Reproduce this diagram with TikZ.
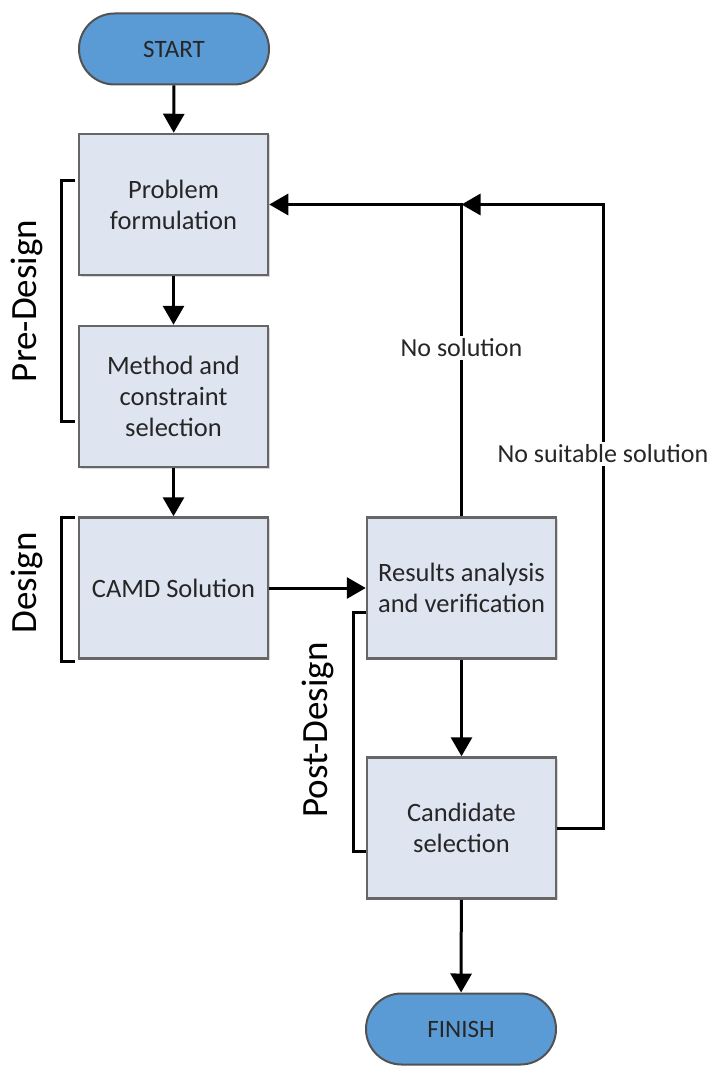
\documentclass[tikz,border=0pt]{standalone}
\usepackage{fontspec}
\setmainfont{Carlito}
\usepackage{tikz}
\usetikzlibrary{arrows.meta,shapes.misc,shadows}

\definecolor{boxfill}{HTML}{DEE5F1}
\definecolor{termfill}{HTML}{5B9BD5}
\definecolor{boxline}{HTML}{666666}

\begin{document}
\begin{tikzpicture}[x=1pt,y=-1pt,
  stepbox/.style={draw=boxline,line width=2.5pt,fill=boxfill,minimum width=189pt,minimum height=141pt,
    inner sep=0pt,align=center,text=black!85,font=\fontsize{26.5}{31}\selectfont,
    drop shadow={shadow xshift=1.5pt,shadow yshift=-1.5pt,opacity=0.3}},
  term/.style={rounded rectangle,draw=boxline!80!black,line width=2pt,fill=termfill,minimum width=190pt,
    minimum height=71pt,inner sep=0pt,text=black!85,font=\fontsize{25}{28}\selectfont},
  flow/.style={line width=3pt,-{Triangle[length=19pt,width=21pt]}},
  brk/.style={line width=3pt},
  lbl/.style={fill=white,inner sep=3pt,text=black!85,font=\fontsize{26}{30}\selectfont},
  side/.style={rotate=90,text=black,font=\fontsize{37}{42}\selectfont}]
  \useasboundingbox (0,0) rectangle (717,1067);

  \node[term] (start) at (174,49) {START};
  \node[stepbox] (prob) at (173.5,204.5) {Problem\\formulation};
  \node[stepbox] (meth) at (173.5,396.5) {Method and\\constraint\\selection};
  \node[stepbox] (camd) at (173.5,588) {CAMD Solution};
  \node[stepbox] (res) at (461.5,588) {Results analysis\\and verification};
  \node[stepbox] (cand) at (461.5,828) {Candidate\\selection};
  \node[term] (finish) at (461,1029) {FINISH};

  \coordinate (fork) at (res.north |- prob.east);
  \coordinate (rt) at (603,204.5);

  \draw[flow] (start) -- (prob);
  \draw[flow] (prob) -- (meth);
  \draw[flow] (meth) -- (camd);
  \draw[flow] (camd) -- (res);
  \draw[flow] (res) -- (cand);
  \draw[flow] (cand) -- (finish);
  % feedback loops
  \draw[flow] (res.north) -- node[lbl,pos=0.54] {No solution} (fork) -- (prob.east);
  \draw[flow] (cand.east) -- (cand.east -| rt) -- node[lbl,pos=0.6] {No suitable solution} (rt) -- (fork);

  % phase brackets
  \draw[brk] (75,181) -- (61,181) -- (61,421) -- (75,421);
  \draw[brk] (75,517) -- (61,517) -- (61,661) -- (75,661);
  \draw[brk] (366,612) -- (353,612) -- (353,851) -- (366,851);
  \node[side] (pre) at (27,301) {Pre-Design};
  \node[side] (des) at (27,583) {Design};
  \node[side] (post) at (318,730) {Post-Design};
\end{tikzpicture}
\end{document}
